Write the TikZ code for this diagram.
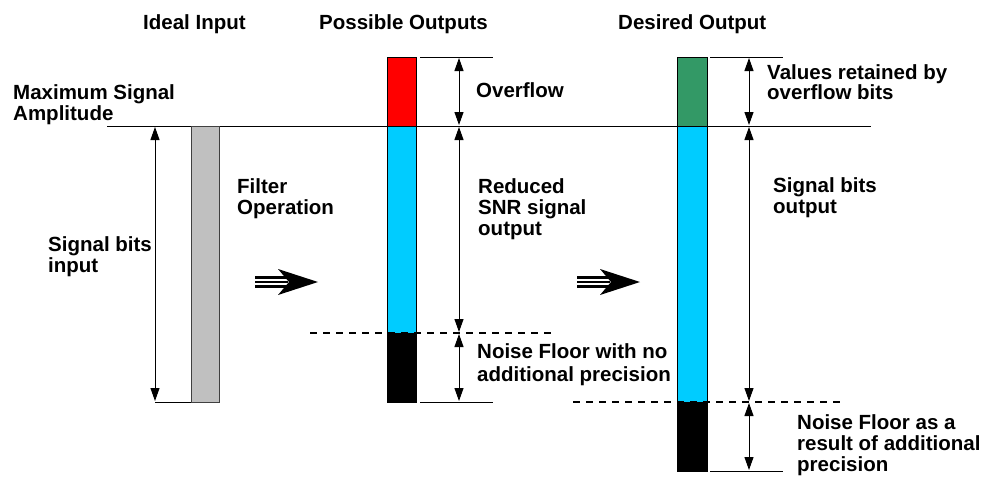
\documentclass[tikz,border=0pt]{standalone}
\usepackage{fontspec}
\setmainfont{Liberation Sans}
\usetikzlibrary{arrows.meta}
\definecolor{barGray}{HTML}{C0C0C0}
\definecolor{barBlue}{HTML}{00CCFF}
\definecolor{barRed}{HTML}{FF0000}
\definecolor{barGreen}{HTML}{339966}
\begin{document}
\begin{tikzpicture}[x=1pt,y=-1pt,
  lbl/.style={font=\fontsize{20.5}{21}\selectfont\bfseries, align=left, inner sep=0pt, anchor=base west},
  rule/.style={line width=1pt},
  dashrule/.style={line width=1.6pt, dash pattern=on 7pt off 6pt},
  dim/.style={line width=1pt, {Triangle[length=13pt,width=9pt]}-{Triangle[length=13pt,width=9pt]}, shorten <=1pt, shorten >=1pt},
  bar/.style={draw=black, line width=1pt, anchor=north west, inner sep=0pt, outer sep=0pt},
  shaft/.style={line width=2.6pt}
]
\useasboundingbox (0,0) rectangle (989,479);

% headings
\node[lbl] (hIdeal) at (143,29) {Ideal Input};
\node[lbl] (hPoss) at (319,29) {Possible Outputs};
\node[lbl] (hDes) at (618,30) {Desired Output};

% maximum amplitude line
\coordinate (maxL) at (107,126);
\coordinate (maxR) at (871,126);
\draw[rule] (maxL) -- (maxR);
\node[lbl] (tMax) at (13,120) {Maximum Signal\\Amplitude};

% ---- ideal input ----
\node[bar, fill=barGray, draw=black!75, minimum width=28pt, minimum height=276pt] (gray) at (191,126) {};
\coordinate (gTop) at (155,126);
\coordinate (gBot) at (155,402);
\draw[rule] (gBot) -- (gray.south west);
\draw[dim] (gTop) -- (gBot);
\node[lbl] (tSigIn) at (48,272) {Signal bits\\input};
\node[lbl] (tFilter) at (237,214) {Filter\\Operation};

% ---- possible outputs ----
\node[bar, fill=barRed, minimum width=29pt, minimum height=69pt] (mRed) at (387,57) {};
\node[bar, fill=barBlue, minimum width=29pt, minimum height=207pt] (mBlue) at (387,126) {};
\node[bar, fill=black, minimum width=29pt, minimum height=69pt] (mBlack) at (387,333) {};
\coordinate (mT1) at (420,57);  \coordinate (mT2) at (493,57);
\coordinate (mB1) at (420,402); \coordinate (mB2) at (493,402);
\coordinate (mD1) at (310,333); \coordinate (mD2) at (555,333);
\draw[rule] (mT1) -- (mT2);
\draw[rule] (mB1) -- (mB2);
\draw[dashrule] (mD1) -- (mD2);
\coordinate (ma) at (459,57);
\coordinate (mb) at (459,126);
\coordinate (mc) at (459,333);
\coordinate (md) at (459,402);
\draw[dim] (ma) -- (mb);
\draw[dim] (mb) -- (mc);
\draw[dim] (mc) -- (md);
\node[lbl] (tOver) at (476,97) {Overflow};
\node[lbl] (tRed) at (478,235) {Reduced\\SNR signal\\output};
\node[lbl] (tNoise1) at (477,381) {Noise Floor with no\\[2pt]additional precision};

% ---- desired output ----
\node[bar, fill=barGreen, minimum width=30pt, minimum height=69pt] (rGreen) at (677,57) {};
\node[bar, fill=barBlue, minimum width=30pt, minimum height=276pt] (rBlue) at (677,126) {};
\node[bar, fill=black, minimum width=30pt, minimum height=69pt] (rBlack) at (677,402) {};
\coordinate (rT1) at (710,57);  \coordinate (rT2) at (783,57);
\coordinate (rB1) at (710,471); \coordinate (rB2) at (783,471);
\coordinate (rD1) at (573,402); \coordinate (rD2) at (845,402);
\draw[rule] (rT1) -- (rT2);
\draw[rule] (rB1) -- (rB2);
\draw[dashrule] (rD1) -- (rD2);
\coordinate (ra) at (749,57);
\coordinate (rb) at (749,126);
\coordinate (rc) at (749,402);
\coordinate (rd) at (749,471);
\draw[dim] (ra) -- (rb);
\draw[dim] (rb) -- (rc);
\draw[dim] (rc) -- (rd);
\node[lbl] (tVal) at (767,99) {Values retained by\\[-1.5pt]overflow bits};
\node[lbl] (tSigOut) at (773,213) {Signal bits\\output};
\node[lbl] (tNoise2) at (797,471) {Noise Floor as a\\result of additional\\precision};

% ---- triple arrows ----
\coordinate (a1s) at (255,282); \coordinate (a1t) at (318,282);
\foreach \d in {-4.3,0,4.3}{\draw[shaft] ([yshift=-\d pt]a1s) -- ([yshift=-\d pt, xshift=-30pt]a1t);}
\fill (a1t) -- ++(-40,-13) -- ++(11,13) -- ++(-11,13) -- cycle;
\coordinate (a2s) at (577,282); \coordinate (a2t) at (640,282);
\foreach \d in {-4.3,0,4.3}{\draw[shaft] ([yshift=-\d pt]a2s) -- ([yshift=-\d pt, xshift=-30pt]a2t);}
\fill (a2t) -- ++(-40,-13) -- ++(11,13) -- ++(-11,13) -- cycle;
\end{tikzpicture}
\end{document}
